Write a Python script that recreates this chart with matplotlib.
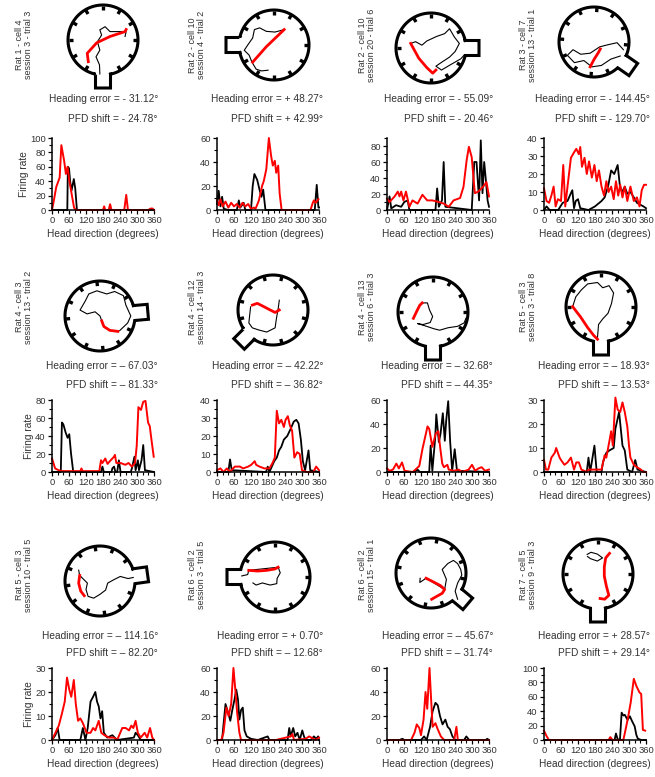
import numpy as np
import matplotlib
matplotlib.use("Agg")
import matplotlib.pyplot as plt

plt.rcParams['font.family'] = ['Liberation Sans', 'DejaVu Sans']
TXT = '#333333'

# ---------------- text of each panel ----------------
rat_labels = ["Rat 1 - cell 4\nsession 3 - trial 3", "Rat 2 - cell 10\nsession 4 - trial 2",
              "Rat 2 - cell 10\nsession 20 - trial 6", "Rat 3 - cell 7\nsession 13 - trial 1",
              "Rat 4 - cell 3\nsession 13 - trial 2", "Rat 4 - cell 12\nsession 14 - trial 3",
              "Rat 4 - cell 13\nsession 6 - trial 3", "Rat 5 - cell 3\nsession 3 - trial 8",
              "Rat 5 - cell 3\nsession 10 - trial 5", "Rat 6 - cell 2\nsession 3 - trial 5",
              "Rat 6 - cell 2\nsession 15 - trial 1", "Rat 7 - cell 5\nsession 9 - trial 3"]
heading_err = ["- 31.12°", "+ 48.27°", "- 55.09°", "- 144.45°",
               "– 67.03°", "– 42.22°", "– 32.68°", "– 18.93°",
               "– 114.16°", "+ 0.70°", "– 45.67°", "+ 28.57°"]
pfd_shift = ["- 24.78°", "+ 42.99°", "- 20.46°", "- 129.70°",
             "– 81.33°", "– 36.82°", "– 44.35°", "– 13.53°",
             "– 82.20°", "– 12.68°", "– 31.74°", "+ 29.14°"]

y_top = [100, 60, 90, 40, 80, 40, 60, 30, 30, 60, 60, 100]
y_last_tick = [100, 60, 80, 40, 80, 40, 60, 30, 30, 60, 60, 100]
y_step = [20, 20, 20, 10, 20, 10, 20, 10, 10, 20, 20, 20]
x_ticks = [0, 60, 120, 180, 240, 300, 360]

# start-box direction of each arena (degrees, counter-clockwise from east)
box_angle = [270, 180, 0, -35, 5, 225, 270, 270, 8, 180, -40, 270]

# ---------------- firing rate vs head direction ----------------
p1_black_x = [0, 54, 56, 60, 64, 69, 73, 77, 82, 88, 360]
p1_black_y = [0, 0, 60, 58, 40, 27, 35, 43, 30, 0, 0]
p1_red_x = [0, 6, 15, 27, 33, 43, 49, 55, 61, 69, 78, 85, 180, 184, 188, 200, 205, 210, 255, 262, 268, 340, 348, 355, 360]
p1_red_y = [0, 12, 32, 45, 90, 68, 50, 60, 41, 23, 3, 0, 0, 5, 0, 0, 8, 0, 0, 21, 0, 0, 2, 2, 0]

p2_black_x = [0, 6, 12, 18, 24, 40, 70, 77, 82, 94, 100, 120, 126, 132, 142, 151, 157, 163, 171, 345, 352, 358, 360]
p2_black_y = [5, 16, 3, 11, 1, 0, 0, 8, 2, 6, 0, 0, 20, 30, 25, 16, 11, 17, 0, 0, 21, 2, 2]
p2_red_x = [0, 6, 12, 20, 30, 40, 50, 60, 70, 80, 90, 100, 110, 120, 130, 136, 148, 159, 165, 174, 183, 191, 197, 204, 209, 216, 221, 228, 330, 338, 342, 348, 358]
p2_red_y = [8, 4, 9, 3, 7, 2, 6, 3, 5, 2, 6, 3, 5, 1, 2, 1, 8, 20, 24, 34, 60, 45, 37, 41, 31, 37, 14, 0, 0, 6, 8, 6, 9]

p3_black_x = [0, 9, 15, 32, 50, 61, 73, 79, 171, 177, 183, 194, 200, 206, 299, 308, 316, 325, 331, 337, 343, 349, 355, 360]
p3_black_y = [0, 17, 2, 6, 4, 10, 12, 0, 0, 27, 4, 12, 60, 4, 0, 60, 60, 12, 87, 21, 60, 37, 12, 4]
p3_red_x = [0, 9, 27, 38, 44, 50, 58, 67, 79, 90, 108, 125, 142, 160, 183, 200, 218, 235, 258, 270, 281, 289, 299, 310, 322, 339, 351, 360]
p3_red_y = [14, 10, 17, 23, 17, 23, 12, 23, 4, 12, 8, 19, 12, 12, 10, 8, 4, 12, 15, 29, 62, 79, 66, 21, 23, 29, 35, 17]

p4_black_x = [0, 9, 20, 50, 66, 83, 94, 100, 106, 112, 120, 128, 157, 180, 203, 214, 226, 237, 248, 260, 268, 277, 285, 294, 305, 317, 328, 339, 351, 360]
p4_black_y = [0, 2, 0, 0, 4, 5, 9, 11, 1, 5, 6, 1, 0, 2, 5, 7, 13, 22, 20, 25, 13, 10, 13, 9, 10, 7, 4, 3, 2, 1]
p4_red_x = [0, 9, 18, 26, 34, 41, 49, 60, 68, 75, 83, 95, 106, 114, 123, 128, 134, 143, 151, 159, 169, 178, 186, 194, 203, 212, 220, 228, 237, 246, 254, 262, 269, 277, 285, 294, 305, 317, 328, 337, 345, 353, 360]
p4_red_y = [12, 5, 4, 8, 13, 2, 6, 5, 25, 2, 13, 29, 32, 34, 31, 35, 24, 29, 20, 27, 18, 25, 16, 22, 13, 8, 16, 10, 13, 6, 16, 8, 14, 7, 13, 5, 13, 5, 7, 2, 11, 14, 14]

p5_black_x = [0, 31, 35, 40, 48, 55, 61, 67, 75, 173, 178, 183, 210, 213, 219, 224, 230, 236, 242, 278, 282, 291, 295, 303, 307, 316, 322, 328, 360]
p5_black_y = [0, 0, 55, 53, 44, 38, 42, 21, 0, 0, 6, 0, 0, 4, 6, 0, 0, 13, 0, 0, 4, 17, 2, 13, 2, 13, 30, 2, 0]
p5_red_x = [0, 11, 23, 35, 100, 104, 108, 167, 173, 178, 188, 196, 207, 219, 222, 227, 242, 259, 270, 282, 293, 299, 305, 314, 322, 330, 339, 345, 351, 359]
p5_red_y = [15, 4, 2, 1, 1, 4, 1, 1, 13, 10, 15, 9, 13, 17, 19, 10, 10, 8, 10, 6, 10, 29, 72, 69, 78, 79, 55, 51, 36, 17]

p6_black_x = [0, 40, 46, 52, 173, 179, 185, 202, 211, 219, 227, 236, 248, 260, 271, 280, 288, 296, 303, 311, 323, 329, 360]
p6_black_y = [0, 0, 7, 1, 0, 3, 0, 6, 8, 12, 14, 18, 20, 24, 28, 29, 27, 18, 6, 1, 12, 1, 0]
p6_red_x = [0, 12, 23, 35, 45, 63, 81, 92, 110, 121, 133, 138, 150, 167, 185, 196, 204, 211, 219, 227, 236, 242, 250, 257, 265, 273, 283, 292, 300, 317, 340, 350, 360]
p6_red_y = [1, 2, 0, 2, 0, 3, 3, 2, 3, 4, 6, 4, 3, 2, 2, 5, 8, 34, 27, 29, 25, 29, 31, 26, 23, 8, 11, 10, 1, 0, 0, 3, 1]

p7_black_x = [0, 96, 108, 116, 149, 154, 160, 170, 174, 183, 189, 197, 204, 209, 216, 223, 230, 239, 247, 360]
p7_black_y = [0, 0, 2, 0, 0, 22, 1, 28, 48, 25, 32, 49, 26, 43, 59, 25, 1, 19, 1, 0]
p7_red_x = [0, 9, 21, 33, 42, 53, 62, 91, 114, 125, 143, 149, 160, 172, 181, 189, 195, 201, 213, 218, 236, 253, 265, 288, 300, 311, 323, 334, 346, 360]
p7_red_y = [3, 1, 2, 7, 3, 8, 1, 0, 5, 19, 38, 36, 21, 32, 34, 18, 7, 4, 6, 2, 1, 2, 0, 2, 6, 1, 3, 4, 1, 2]

p8_black_x = [0, 151, 157, 163, 178, 186, 203, 208, 220, 231, 246, 252, 265, 271, 277, 285, 294, 311, 322, 330, 360]
p8_black_y = [0, 0, 6, 0, 11, 0, 0, 4, 8, 9, 10, 18, 25, 18, 11, 9, 1, 0, 5, 1, 0]
p8_red_x = [0, 7, 15, 26, 38, 43, 55, 60, 72, 83, 95, 106, 114, 123, 132, 151, 157, 180, 203, 214, 220, 231, 237, 243, 252, 260, 269, 277, 285, 294, 300, 305, 317, 328, 342, 351, 360]
p8_red_y = [5, 1, 1, 6, 8, 10, 6, 5, 3, 4, 6, 1, 4, 4, 1, 0, 1, 1, 1, 7, 6, 13, 17, 11, 31, 26, 25, 29, 25, 19, 11, 6, 3, 2, 1, 0, 0]

p9_black_x = [0, 12, 20, 27, 100, 109, 118, 126, 136, 145, 153, 159, 165, 171, 177, 183, 195, 213, 230, 289, 295, 303, 313, 360]
p9_black_y = [0, 2, 5, 0, 0, 5, 0, 5, 16, 18, 20, 16, 14, 9, 12, 3, 1, 2, 0, 1, 3, 2, 0, 0]
p9_red_x = [0, 12, 24, 35, 45, 53, 61, 68, 77, 84, 92, 100, 109, 122, 136, 145, 153, 165, 174, 185, 201, 218, 230, 248, 260, 272, 280, 287, 295, 303, 313, 327, 336, 346, 354, 360]
p9_red_y = [0, 3, 6, 11, 16, 26, 21, 18, 25, 15, 8, 9, 7, 3, 3, 5, 4, 8, 3, 2, 1, 1, 0, 5, 5, 4, 6, 5, 8, 3, 1, 3, 1, 5, 1, 0]

p10_black_x = [0, 18, 21, 30, 39, 47, 54, 62, 68, 74, 79, 85, 91, 97, 105, 120, 144, 179, 185, 249, 255, 260, 269, 276, 284, 292, 301, 307, 313, 331, 342, 350, 357, 360]
p10_black_y = [0, 0, 8, 30, 23, 16, 25, 34, 42, 34, 17, 25, 27, 8, 3, 1, 0, 3, 0, 0, 10, 3, 10, 3, 6, 0, 8, 3, 0, 0, 3, 1, 3, 0]
p10_red_x = [0, 15, 23, 33, 41, 50, 58, 65, 71, 79, 85, 208, 260, 266, 272, 313, 325, 348, 360]
p10_red_y = [0, 0, 6, 27, 20, 30, 60, 41, 23, 6, 0, 0, 3, 5, 0, 1, 3, 0, 2]

p11_black_x = [0, 44, 54, 62, 120, 131, 140, 152, 161, 171, 179, 187, 196, 206, 214, 222, 231, 241, 272, 280, 290, 348, 354, 360]
p11_black_y = [0, 0, 1, 0, 0, 3, 0, 11, 24, 31, 29, 20, 13, 17, 11, 9, 3, 0, 0, 3, 0, 0, 1, 0]
p11_red_x = [0, 85, 97, 105, 114, 120, 129, 136, 142, 150, 155, 161, 171, 179, 190, 202, 237, 245, 250, 360]
p11_red_y = [0, 0, 6, 13, 10, 4, 17, 40, 26, 60, 37, 11, 14, 9, 3, 0, 0, 11, 0, 0]

p12_black_x = [0, 249, 254, 260, 268, 274, 280, 285, 295, 303, 311, 320, 326, 331, 343, 360]
p12_black_y = [0, 0, 9, 1, 0, 38, 34, 35, 28, 33, 26, 19, 7, 2, 0, 0]
p12_red_x = [0, 7, 17, 228, 234, 242, 280, 285, 295, 306, 317, 326, 337, 343, 349, 357]
p12_red_y = [13, 7, 0, 0, 4, 0, 0, 9, 28, 52, 85, 75, 66, 64, 14, 13]

# ---------------- trajectories in the arena (units of arena radius) ----------------
t1_black_x = [-0.09, -0.1, -0.2, -0.09, -0.16, -0.04, -0.09, 0.06, 0.2, 0.44, 0.66, 0.63]
t1_black_y = [-0.97, -0.71, -0.48, -0.29, -0.05, 0.14, 0.29, 0.38, 0.24, 0.24, 0.24, 0.1]
t1_red_x = [-0.42, -0.45, -0.18, 0.2, 0.63, 0.66]
t1_red_y = [-0.62, -0.38, -0.08, 0.1, 0.24, 0.3]

t2_black_x = [0.29, 0.03, -0.22, -0.41, -0.56, -0.61, -0.75, -0.85, -0.71, -0.63, -0.51, -0.36, -0.17]
t2_black_y = [0.44, 0.37, 0.39, 0.49, 0.44, 0.2, 0.0, -0.15, -0.29, -0.49, -0.69, -0.74, -0.72]
t2_red_x = [-0.61, -0.22, 0.29]
t2_red_y = [-0.49, -0.05, 0.44]

t3_black_x = [-0.58, -0.44, -0.26, -0.12, 0.16, 0.39, 0.53, 0.67, 0.81, 0.69, 0.53, 0.3, 0.14, 0.3, 0.57, 0.85, 0.95]
t3_black_y = [0.13, 0.18, 0.08, 0.2, 0.33, 0.41, 0.55, 0.31, 0.13, -0.1, -0.26, -0.41, -0.52, -0.63, -0.47, -0.31, -0.2]
t3_red_x = [-0.58, -0.35, -0.12, 0.05, 0.14]
t3_red_y = [0.13, -0.29, -0.56, -0.72, -0.63]

t4_black_x = [0.84, 0.66, 0.39, 0.16, -0.11, -0.38, -0.6, -0.76, -0.56, -0.29, -0.06, 0.21, 0.48, 0.75]
t4_black_y = [-0.22, -0.02, -0.08, -0.14, -0.32, -0.35, -0.22, -0.38, -0.59, -0.53, -0.71, -0.67, -0.49, -0.4]
t4_red_x = [-0.11, 0.0, 0.12, 0.18]
t4_red_y = [-0.71, -0.5, -0.31, -0.2]

t5_black_x = [0.56, 0.79, 0.88, 0.74, 0.67, 0.42, 0.19, -0.09, -0.32, -0.42, -0.57, -0.37, -0.14, 0.0, 0.05]
t5_black_y = [-0.42, -0.2, 0.0, 0.31, 0.58, 0.7, 0.63, 0.72, 0.63, 0.43, 0.17, 0.06, 0.12, 0.0, -0.14]
t5_red_x = [0.05, 0.11, 0.28, 0.51]
t5_red_y = [-0.14, -0.3, -0.41, -0.44]

t6_black_x = [0.18, 0.15, 0.1, 0.06, -0.18, -0.41, -0.59, -0.69, -0.66, -0.64]
t6_black_y = [0.28, 0.05, -0.23, -0.51, -0.63, -0.57, -0.51, -0.37, -0.09, 0.09]
t6_red_x = [-0.59, -0.45, -0.25, -0.08, 0.06, 0.18]
t6_red_y = [0.14, 0.19, 0.09, 0.0, -0.07, 0.0]

t7_black_x = [-0.31, -0.16, -0.1, -0.01, -0.08, -0.29, -0.44, -0.18, 0.03, 0.19, 0.43, 0.7, 0.89, 0.94]
t7_black_y = [0.26, 0.26, 0.06, -0.13, -0.3, -0.36, -0.33, -0.41, -0.48, -0.52, -0.45, -0.41, -0.31, -0.18]
t7_red_x = [-0.56, -0.47, -0.38, -0.31]
t7_red_y = [-0.18, 0.01, 0.19, 0.26]

t8_black_x = [-0.81, -0.72, -0.56, -0.38, -0.1, 0.05, 0.23, 0.36, 0.3, 0.2, 0.05, -0.07, -0.1]
t8_black_y = [0.01, 0.29, 0.49, 0.66, 0.7, 0.55, 0.61, 0.4, 0.1, -0.18, -0.34, -0.5, -0.87]
t8_red_x = [-0.81, -0.58, -0.38, -0.21, -0.1]
t8_red_y = [0.01, -0.29, -0.59, -0.81, -0.92]

t9_black_x = [0.95, 0.8, 0.58, 0.4, 0.22, 0.16, 0.0, -0.18, -0.34, -0.4, -0.36, -0.58, -0.61]
t9_black_y = [0.1, 0.07, 0.13, 0.04, -0.06, -0.26, -0.38, -0.49, -0.44, -0.24, -0.06, 0.16, 0.31]
t9_red_x = [-0.58, -0.61, -0.55, -0.45]
t9_red_y = [0.16, -0.06, -0.29, -0.42]

t10_black_x = [-0.95, -0.78, -0.75, 0.09, 0.15, 0.06, 0.05, -0.14, -0.36, -0.54, -0.63]
t10_black_y = [0.03, 0.07, 0.19, 0.28, 0.12, -0.04, -0.19, -0.23, -0.17, -0.23, -0.17]
t10_red_x = [-0.75, -0.5, -0.23, 0.0, 0.09]
t10_red_y = [0.19, 0.17, 0.19, 0.23, 0.28]

t11_black_x = [-0.31, -0.32, -0.14, 0.39, 0.44, 0.32, 0.48, 0.64, 0.76, 0.85, 0.88, 0.76, 0.69, 0.76]
t11_black_y = [-0.15, -0.27, -0.15, -0.47, -0.18, 0.1, 0.27, 0.36, 0.27, 0.1, -0.06, -0.29, -0.52, -0.75]
t11_red_x = [-0.14, 0.06, 0.27, 0.39, 0.32, 0.14, 0.02]
t11_red_y = [-0.15, -0.25, -0.36, -0.47, -0.58, -0.68, -0.75]

t12_black_x = [-0.31, -0.2, -0.02, 0.13, -0.02, -0.22, -0.3]
t12_black_y = [0.56, 0.62, 0.57, 0.46, 0.37, 0.44, 0.5]
t12_red_x = [0.33, 0.22, 0.18, 0.18, 0.24, 0.31, 0.19, 0.06]
t12_red_y = [0.59, 0.46, 0.2, -0.06, -0.35, -0.61, -0.72, -0.7]

rate_black = [(p1_black_x, p1_black_y), (p2_black_x, p2_black_y), (p3_black_x, p3_black_y), (p4_black_x, p4_black_y),
              (p5_black_x, p5_black_y), (p6_black_x, p6_black_y), (p7_black_x, p7_black_y), (p8_black_x, p8_black_y),
              (p9_black_x, p9_black_y), (p10_black_x, p10_black_y), (p11_black_x, p11_black_y), (p12_black_x, p12_black_y)]
rate_red = [(p1_red_x, p1_red_y), (p2_red_x, p2_red_y), (p3_red_x, p3_red_y), (p4_red_x, p4_red_y),
            (p5_red_x, p5_red_y), (p6_red_x, p6_red_y), (p7_red_x, p7_red_y), (p8_red_x, p8_red_y),
            (p9_red_x, p9_red_y), (p10_red_x, p10_red_y), (p11_red_x, p11_red_y), (p12_red_x, p12_red_y)]
traj_black = [(t1_black_x, t1_black_y), (t2_black_x, t2_black_y), (t3_black_x, t3_black_y), (t4_black_x, t4_black_y),
              (t5_black_x, t5_black_y), (t6_black_x, t6_black_y), (t7_black_x, t7_black_y), (t8_black_x, t8_black_y),
              (t9_black_x, t9_black_y), (t10_black_x, t10_black_y), (t11_black_x, t11_black_y), (t12_black_x, t12_black_y)]
traj_red = [(t1_red_x, t1_red_y), (t2_red_x, t2_red_y), (t3_red_x, t3_red_y), (t4_red_x, t4_red_y),
            (t5_red_x, t5_red_y), (t6_red_x, t6_red_y), (t7_red_x, t7_red_y), (t8_red_x, t8_red_y),
            (t9_red_x, t9_red_y), (t10_red_x, t10_red_y), (t11_red_x, t11_red_y), (t12_red_x, t12_red_y)]

# ---------------- layout (pixels) ----------------
W, H = 655, 777
col_left = [52, 217, 387, 544]
ax_w = 102
row_base = [210, 472, 740]
ax_h = 72
arena_cx = [103, 274, 431, 594, 100, 273, 433, 601, 100, 275, 431, 598]
arena_cy = [40, 45, 48, 42, 316, 310, 312, 307, 581, 577, 573, 574]
R = 35
label_x = [24, 197, 367, 528]
label_y = [45, 307, 575]
head_y = [99, 366, 636]
pfd_y = [119, 385, 653]

fig = plt.figure(figsize=(W / 100, H / 100), dpi=100)
bg = fig.add_axes([0, 0, 1, 1])
bg.set_xlim(0, W)
bg.set_ylim(H, 0)
bg.axis('off')


def draw_arena(ax, cx, cy, ang, r, bw=7.5, bd=13):
    a = np.deg2rad(ang)
    d = np.arcsin(bw / r)
    t = np.linspace(a + d, a + 2 * np.pi - d, 240)
    xs = list(r * np.cos(t))
    ys = list(r * np.sin(t))
    for u, v in [(r * np.cos(d), -bw), (r + bd, -bw), (r + bd, bw), (r * np.cos(d), bw)]:
        xs.append(u * np.cos(a) - v * np.sin(a))
        ys.append(u * np.sin(a) + v * np.cos(a))
    ax.plot(cx + np.array(xs), cy - np.array(ys), color='black', lw=2.2, solid_joinstyle='miter')
    # small landmarks on the inner wall
    for k in range(1, 12):
        b = a + k * np.pi / 6
        ax.plot([cx + (r - 1) * np.cos(b), cx + (r - 5) * np.cos(b)],
                [cy - (r - 1) * np.sin(b), cy - (r - 5) * np.sin(b)],
                color='black', lw=2.4, solid_capstyle='butt')


for i in range(12):
    row, col = divmod(i, 4)
    cx, cy = arena_cx[i], arena_cy[i]
    draw_arena(bg, cx, cy, box_angle[i], R)
    bx, by = traj_black[i]
    bg.plot(cx + R * np.array(bx), cy - R * np.array(by), color='black', lw=0.8)
    rx, ry = traj_red[i]
    bg.plot(cx + R * np.array(rx), cy - R * np.array(ry), color='red', lw=2.0)

    bg.text(label_x[col], label_y[row], rat_labels[i], rotation=90, ha='center', va='center',
            fontsize=6.5, color=TXT, linespacing=1.0)
    right = col_left[col] + ax_w + 4
    bg.text(right, head_y[row], "Heading error = " + heading_err[i], ha='right', va='center',
            fontsize=7.3, color=TXT)
    bg.text(right, pfd_y[row], "PFD shift = " + pfd_shift[i], ha='right', va='center',
            fontsize=7.3, color=TXT)

    ax = fig.add_axes([col_left[col] / W, 1 - row_base[row] / H, ax_w / W, ax_h / H])
    xb, yb = rate_black[i]
    ax.plot(xb, yb, color='black', lw=1.3, clip_on=False)
    xr, yr = rate_red[i]
    ax.plot(xr, yr, color='red', lw=1.4, clip_on=False)
    ax.set_xlim(0, 360)
    ax.set_ylim(0, y_top[i])
    ax.set_xticks(x_ticks)
    ax.set_xticks(np.arange(0, 361, 20), minor=True)
    ax.set_yticks(np.arange(0, y_last_tick[i] + 1, y_step[i]))
    ax.set_yticks(np.arange(0, y_top[i] + 0.1, y_step[i] / 2), minor=True)
    for s in ['top', 'right']:
        ax.spines[s].set_visible(False)
    for s in ['left', 'bottom']:
        ax.spines[s].set_linewidth(1.1)
    ax.tick_params(which='major', length=3, width=0.9, direction='out', labelsize=6.8,
                   labelcolor=TXT, pad=1.5)
    ax.tick_params(which='minor', length=2, width=0.8, direction='out')
    ax.set_xlabel("Head direction (degrees)", fontsize=7.3, color=TXT, labelpad=3)
    if col == 0:
        ax.set_ylabel("Firing rate", fontsize=7.3, color=TXT, labelpad=1)
    ax.patch.set_alpha(0)

fig.savefig('out.png', dpi=100)
